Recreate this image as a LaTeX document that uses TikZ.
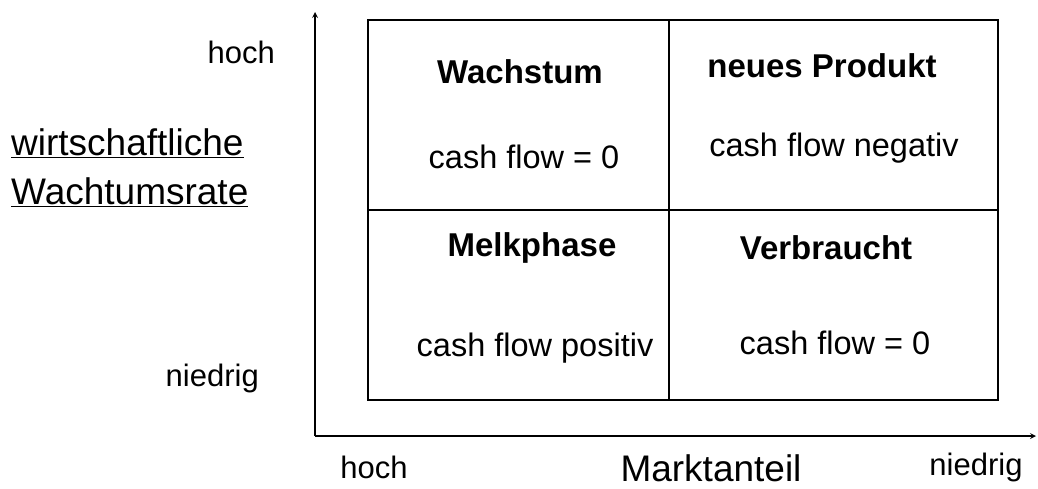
\documentclass[tikz,border=0pt]{standalone}
\usepackage{fontspec}
\setmainfont{Liberation Sans}
\begin{document}
\begin{tikzpicture}[x=1pt,y=-1pt,
  lab/.style={inner sep=0pt,font=\fontsize{32.5}{36}\selectfont},
  ax/.style={inner sep=0pt,font=\fontsize{31}{36}\selectfont},
  big/.style={inner sep=0pt,font=\fontsize{37}{42}\selectfont},
  head/.style={inner sep=0pt,font=\fontsize{33}{36}\selectfont\bfseries},
  box/.style={draw,line width=1.6pt},
  axis/.style={line width=1.6pt}]
\useasboundingbox[fill=white] (0,0) rectangle (1038,488);
% axes
\coordinate (o) at (315,436);
\coordinate (ytop) at (315,12);
\coordinate (xend) at (1036,436);
\draw[axis,-stealth] (o) -- (ytop);
\draw[axis,-stealth] (o) -- (xend);
% grid
\coordinate (g1) at (368,20);
\coordinate (g2) at (998,400);
\draw[box] (g1) rectangle (g2);
\coordinate (vt) at (669,20);
\coordinate (vb) at (669,400);
\coordinate (hl) at (368,210);
\coordinate (hr) at (998,210);
\draw[box] (vt) -- (vb);
\draw[box] (hl) -- (hr);
% quadrant texts
\node[head] (q1) at (520,72) {Wachstum};
\node[lab] (q1c) at (524,157) {cash flow = 0};
\node[head] (q2) at (822,66) {neues Produkt};
\node[lab] (q2c) at (834,148) {cash flow negativ};
\node[head] (q3) at (532,248) {Melkphase};
\node[lab] (q3c) at (535,348) {cash flow positiv};
\node[head] (q4) at (826,248) {Verbraucht};
\node[lab] (q4c) at (835,343) {cash flow = 0};
% axis labels
\node[ax,anchor=east] (yh) at (275,52) {hoch};
\node[ax,anchor=east] (yn) at (259,378) {niedrig};
\node[big,anchor=west] (yl1) at (11,143) {\underline{wirtschaftliche}};
\node[big,anchor=west] (yl2) at (11,192) {\underline{Wachtumsrate}};
\node[ax] (xh) at (374,467) {hoch};
\node[big,anchor=base] (xl) at (711,481) {Marktanteil};
\node[ax] (xn) at (976,467) {niedrig};
\end{tikzpicture}
\end{document}
